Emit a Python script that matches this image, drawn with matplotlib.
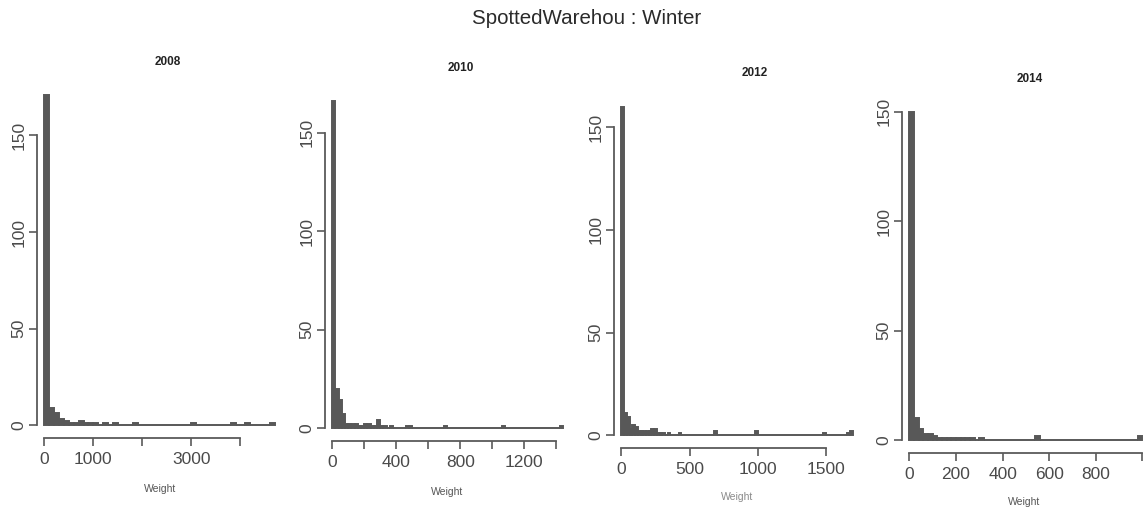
import matplotlib
matplotlib.use("Agg")
import matplotlib.pyplot as plt
import numpy as np

plt.rcParams['font.family'] = ['Liberation Sans', 'DejaVu Sans']

# ---------------- data ----------------
years = ["2008", "2010", "2012", "2014"]
bin_widths = [100, 20, 20, 20]

counts_2008 = [171, 9, 6, 3, 2, 1, 1, 2, 1, 1,
               1, 0, 1, 0, 1, 0, 0, 0, 1, 0,
               0, 0, 0, 0, 0, 0, 0, 0, 0, 0,
               1, 0, 0, 0, 0, 0, 0, 0, 1, 0,
               0, 1, 0, 0, 0, 0, 1]

counts_2010 = [166, 20, 14, 7, 2, 2, 2, 2, 1, 1,
               2, 2, 1, 1, 4, 1, 1, 0, 1, 0,
               0, 0, 0, 1, 1, 0, 0, 0, 0, 0,
               0, 0, 0, 0, 0, 1, 0, 0, 0, 0,
               0, 0, 0, 0, 0, 0, 0, 0, 0, 0,
               0, 0, 0, 1, 0, 0, 0, 0, 0, 0,
               0, 0, 0, 0, 0, 0, 0, 0, 0, 0,
               0, 1]

counts_2012 = [160, 11, 9, 3, 5, 4, 2, 2, 2, 2,
               2, 3, 3, 1, 1, 1, 0, 1, 0, 0,
               0, 1, 0, 0, 0, 0, 0, 0, 0, 0,
               0, 0, 0, 0, 2, 0, 0, 0, 0, 0,
               0, 0, 0, 0, 0, 0, 0, 0, 0, 2,
               0, 0, 0, 0, 0, 0, 0, 0, 0, 0,
               0, 0, 0, 0, 0, 0, 0, 0, 0, 0,
               0, 0, 0, 0, 1, 0, 0, 0, 0, 0,
               0, 0, 0, 1, 2]

counts_2014 = [150, 10, 5, 3, 3, 2, 1, 1, 1, 1,
               1, 1, 1, 1, 0, 1, 0, 0, 0, 0,
               0, 0, 0, 0, 0, 0, 0, 2, 0, 0,
               0, 0, 0, 0, 0, 0, 0, 0, 0, 0,
               0, 0, 0, 0, 0, 0, 0, 0, 0, 2]

all_counts = [counts_2008, counts_2010, counts_2012, counts_2014]

x_ticks = [[0, 1000, 2000, 3000, 4000],
           [0, 200, 400, 600, 800, 1000, 1200, 1400],
           [0, 500, 1000, 1500],
           [0, 200, 400, 600, 800, 1000]]
x_ticklabels = [["0", "1000", "", "3000", ""],
                ["0", "", "400", "", "800", "", "1200", ""],
                ["0", "500", "1000", "1500"],
                ["0", "200", "400", "600", "800", ""]]
y_ticks = [0, 50, 100, 150]
y_ticklabels = ["0", "50", "100", "150"]

suptitle = "SpottedWarehou : Winter"
xlabel = "Weight"

# ---------------- layout (pixels) ----------------
W, H = 1147, 513
# left, right, top, bottom in px
boxes = [(37, 284, 82, 438),
         (325, 572, 88, 441),
         (614, 862, 94, 448),
         (902, 1146, 98, 453)]
xlims = [(-150, 4888), (-45, 1497.6), (-55, 1768), (-32, 1016)]
ylims = [(-6.7, 177.7), (-6.6, 172.6), (-6.3, 166.3), (-5.9, 156.2)]
title_pos = [(168, 62), (461, 68), (755, 73), (1030, 79)]
xlabel_pos = [(160, 489), (447, 492), (737, 497), (1024, 502)]

bar_col = "#585858"
ax_col = "#5a5a5a"

fig = plt.figure(figsize=(W / 100, H / 100), dpi=100)
fig.patch.set_facecolor("white")

fig.text(587 / W, 1 - 18 / H, suptitle, ha="center", va="center",
         fontsize=14.8, color="#2a2a2a")

for i in range(4):
    l, r, t, b = boxes[i]
    ax = fig.add_axes([l / W, 1 - b / H, (r - l) / W, (b - t) / H])
    counts = np.array(all_counts[i])
    bw = bin_widths[i]
    edges = np.arange(len(counts)) * bw
    ax.bar(edges, counts, width=bw, align="edge", color=bar_col,
           edgecolor=bar_col, linewidth=1.4)
    ax.set_xlim(*xlims[i])
    ax.set_ylim(*ylims[i])
    for s in ["top", "right"]:
        ax.spines[s].set_visible(False)
    for s in ["left", "bottom"]:
        ax.spines[s].set_color(ax_col)
        ax.spines[s].set_linewidth(1.3)
    ax.spines["left"].set_bounds(0, 150)
    ax.spines["bottom"].set_bounds(x_ticks[i][0], x_ticks[i][-1])
    ax.set_xticks(x_ticks[i])
    ax.set_xticklabels(x_ticklabels[i])
    ax.set_yticks(y_ticks)
    ax.set_yticklabels(y_ticklabels, rotation=90, va="center")
    ax.tick_params(direction="out", length=6, width=1.2, colors=ax_col,
                   labelsize=12.5, labelcolor="#4a4a4a")
    ax.tick_params(axis="x", pad=4)
    ax.tick_params(axis="y", pad=1.5)
    ax.patch.set_alpha(0)
    tx, ty = title_pos[i]
    fig.text(tx / W, 1 - ty / H, years[i], ha="center", va="center",
             fontsize=8.5, fontweight="bold", color="#222222")
    lx, ly = xlabel_pos[i]
    fig.text(lx / W, 1 - ly / H, xlabel, ha="center", va="center",
             fontsize=7.5, color="#555555" if i != 2 else "#8a8a8a")

fig.savefig("out.png", dpi=100)
